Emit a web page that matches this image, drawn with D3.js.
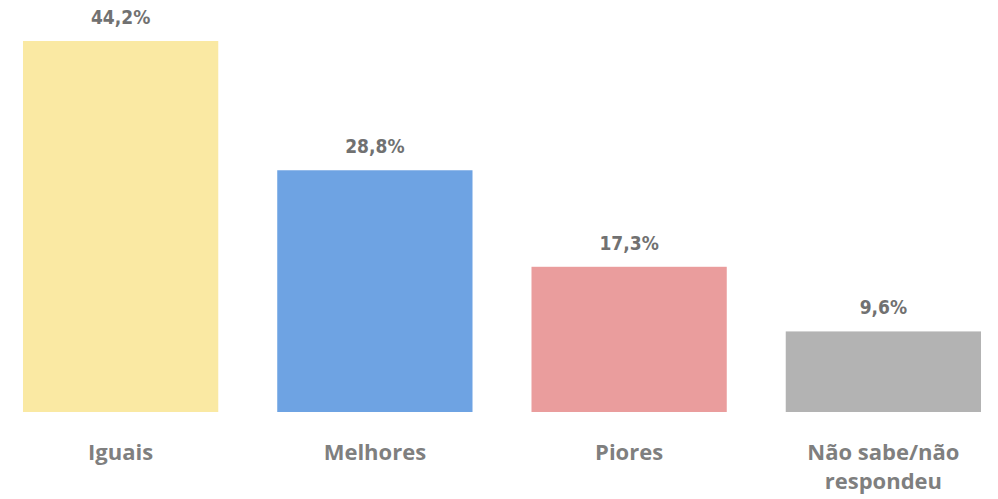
<!DOCTYPE html>
<html><head><meta charset="utf-8">
<script src="https://cdn.jsdelivr.net/npm/d3@7"></script>
<style>body{margin:0;background:#fff}svg{display:block}
.val{font-family:"DejaVu Sans",sans-serif;font-stretch:condensed;font-weight:bold;}
</style>
</head><body>
<script>
const categories = ["Iguais", "Melhores", "Piores", "Não sabe/não respondeu"];
const values = [44.2, 28.8, 17.3, 9.6];
const valueLabels = ["44,2%", "28,8%", "17,3%", "9,6%"];
const colors = ["#FAE9A3", "#6EA3E3", "#EA9D9D", "#B3B3B3"];

const W = 998, H = 499;
const svg = d3.select("body").append("svg").attr("width", W).attr("height", H);
svg.append("rect").attr("width", W).attr("height", H).attr("fill", "#ffffff");

const x = d3.scaleBand().domain(categories).range([-6.5, 1010.5]).paddingInner(0.232).paddingOuter(0.116);
const y = d3.scaleLinear().domain([0, 44.2]).range([412, 41]);

svg.selectAll("rect.bar").data(categories).join("rect")
  .attr("class", "bar")
  .attr("x", d => x(d)).attr("width", x.bandwidth())
  .attr("y", (d, i) => y(values[i])).attr("height", (d, i) => y(0) - y(values[i]))
  .attr("fill", (d, i) => colors[i]);

svg.selectAll("text.val").data(categories).join("text")
  .attr("class", "val")
  .attr("x", d => x(d) + x.bandwidth() / 2)
  .attr("y", (d, i) => y(values[i]) - 17)
  .attr("text-anchor", "middle")
  .attr("font-size", 19)
  .attr("fill", "#717171")
  .text((d, i) => valueLabels[i]);

const axis = d3.axisBottom(x).tickSize(0).tickPadding(0);
const g = svg.append("g").attr("transform", "translate(0,412)").call(axis);
g.select(".domain").remove();
g.selectAll("text").remove();
g.selectAll(".tick").each(function(d) {
  const t = d3.select(this).append("text")
    .attr("text-anchor", "middle")
    .attr("font-family", "'Open Sans', sans-serif")
    .attr("font-weight", "bold")
    .attr("font-size", 22)
    .attr("fill", "#7F7F7F");
  const lines = d === "Não sabe/não respondeu" ? ["Não sabe/não", "respondeu"] : [d];
  lines.forEach((l, i) => t.append("tspan").attr("x", 0).attr("y", 48 + i * 29).text(l));
});
</script>
</body></html>
